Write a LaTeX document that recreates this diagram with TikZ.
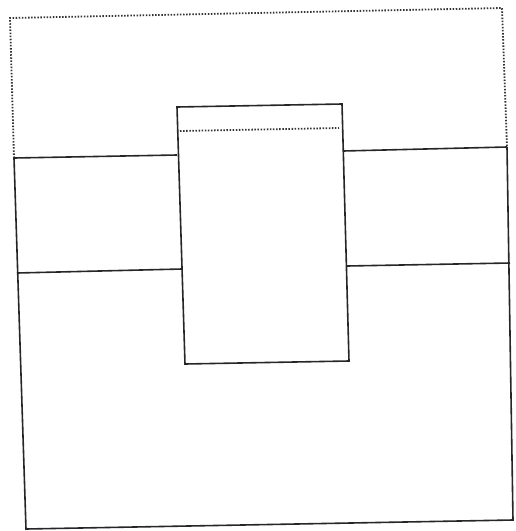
\documentclass[tikz,border=0pt]{standalone}
\usepackage{tikz}

\tikzset{
  wall/.style={line width=1.6pt, black!85},
  dotline/.style={line width=1.8pt, black!80, dash pattern=on 1.5pt off 1.6pt}
}

\begin{document}
\begin{tikzpicture}[x=1pt,y=-1pt]
\useasboundingbox (0,0) rectangle (515,531);

% corner points
\coordinate (dTL) at (10,18);
\coordinate (dTR) at (502,8);
\coordinate (lTop) at (14,158);
\coordinate (rTop) at (507,147);
\coordinate (lBot) at (26,529);
\coordinate (rBot) at (513,520);

% middle box
\coordinate (bTL) at (177,107);
\coordinate (bTR) at (342,104);
\coordinate (bBR) at (349,361);
\coordinate (bBL) at (185,364);

% outer dotted frame
\draw[dotline] (lTop) -- (dTL) -- (dTR) -- (rTop);
\draw[dotline] (180,131) -- (339,128);

% outer solid frame
\draw[wall] (lTop) -- (lBot) -- (rBot) -- (rTop);
\draw[wall] (lTop) -- (177,155);
\draw[wall] (343,151) -- (rTop);
\draw[wall] (17,273) -- (182,269);
\draw[wall] (347,266) -- (510,263);

\draw[wall] (bTL) -- (bTR) -- (bBR) -- (bBL) -- cycle;

\end{tikzpicture}
\end{document}
